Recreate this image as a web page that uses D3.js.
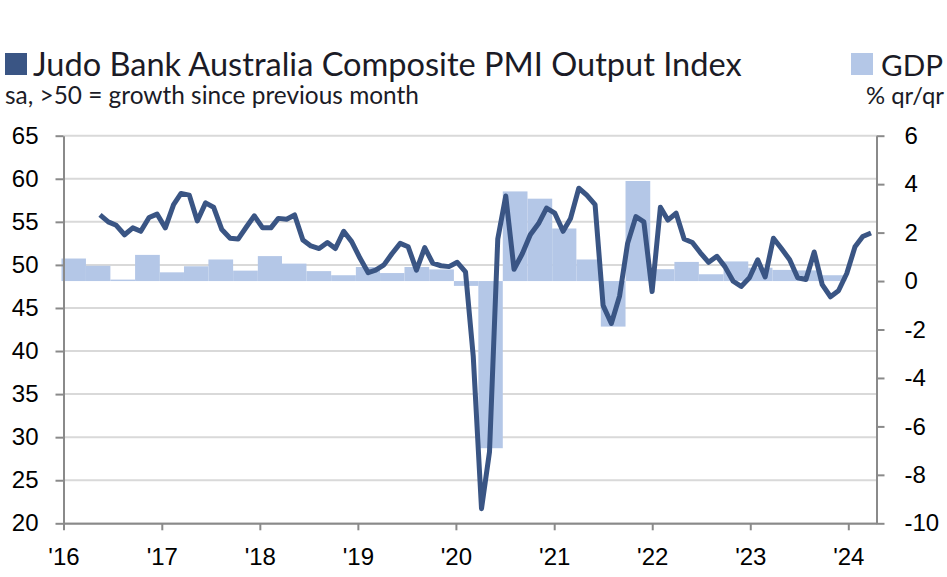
<!DOCTYPE html>
<html>
<head>
<meta charset="utf-8">
<script src="https://cdn.jsdelivr.net/npm/d3@7"></script>
<style>
  body { margin: 0; background: #fff; }
  svg { display: block; }
</style>
</head>
<body>
<div id="chart"></div>
<script>
// PMI composite output index, monthly from May 2016
var pmiStart = "2016-05";
var pmiValues = [
  55.8, 55.0, 54.6, 53.5, 54.3, 53.9, 55.5, 55.9,
  54.3, 57.0, 58.3, 58.1, 55.1, 57.2, 56.7, 54.1, 53.1, 53.0, 54.4, 55.7,
  54.3, 54.3, 55.4, 55.3, 55.8, 52.9, 52.2, 51.9, 52.6, 51.9, 53.9, 52.7,
  50.8, 49.1, 49.4, 50.0, 51.3, 52.5, 52.1, 49.4, 52.0, 50.2, 49.9, 49.8,
  50.3, 49.2, 39.4, 21.7, 28.3, 53.0, 58.0, 49.5, 51.3, 53.5, 54.8, 56.6,
  56.0, 53.9, 55.4, 58.9, 58.1, 57.0, 45.3, 43.2, 46.4, 52.5, 55.6, 55.0,
  46.9, 56.7, 55.2, 56.0, 53.0, 52.6, 51.4, 50.3, 51.0, 49.8, 48.1, 47.5,
  48.5, 50.6, 48.6, 53.1, 51.9, 50.6, 48.5, 48.3, 51.5, 47.7, 46.3, 47.0,
  49.0, 52.1, 53.3, 53.7
];

// GDP % q/q, quarterly from Q1 2016
var gdpStart = "2016-01";
var gdpValues = [
  0.93, 0.63, 0.06, 1.08,
  0.36, 0.61, 0.89, 0.43,
  1.03, 0.72, 0.41, 0.24,
  0.58, 0.33, 0.58, 0.48,
  -0.2, -6.9, 3.7, 3.4,
  2.17, 0.89, -1.88, 4.13,
  0.49, 0.79, 0.28, 0.81,
  0.55, 0.46, 0.44, 0.24
];

var yearLabels = ["'16", "'17", "'18", "'19", "'20", "'21", "'22", "'23", "'24"];
var leftTicks = [20, 25, 30, 35, 40, 45, 50, 55, 60, 65];
var rightTicks = [-10, -8, -6, -4, -2, 0, 2, 4, 6];

var titleText = "Judo Bank Australia Composite PMI Output Index";
var subtitleText = "sa, >50 = growth since previous month";
var gdpLabel = "GDP";
var gdpUnit = "% qr/qr";

var width = 947, height = 577;
var plot = {left: 63.5, right: 876.5, top: 135.7, bottom: 523.3};
var lineColor = "#3a5584", barColor = "#b4c7e7", axisColor = "#8a8a8a", gridColor = "#d9d9d9";
var titleFont = "Lato, 'Open Sans', sans-serif";
var axisFont = "'Liberation Sans', Arial, sans-serif";

var parseMonth = d3.timeParse("%Y-%m");
var pmiData = pmiValues.map(function(v, i) {
  return {date: d3.timeMonth.offset(parseMonth(pmiStart), i), value: v};
});
var gdpData = gdpValues.map(function(v, i) {
  return {date: d3.timeMonth.offset(parseMonth(gdpStart), i * 3), value: v};
});

var svg = d3.select("#chart").append("svg")
  .attr("width", width)
  .attr("height", height);

// scales
var x = d3.scaleTime()
  .domain([new Date(2016, 0, 1), new Date(2024, 3, 15)])
  .range([plot.left, plot.right]);
// the line series sits on its own (secondary) date axis in the original
var xLine = d3.scaleTime()
  .domain(d3.extent(pmiData, function(d) { return d.date; }))
  .range([100, 871]);
var yL = d3.scaleLinear().domain([20, 65]).range([plot.bottom, plot.top]);
var yR = d3.scaleLinear().domain([-10, 6]).range([plot.bottom, plot.top]);

// gridlines
svg.append("g")
  .selectAll("line")
  .data(leftTicks)
  .enter().append("line")
    .attr("x1", plot.left)
    .attr("x2", plot.right)
    .attr("y1", function(d) { return yL(d); })
    .attr("y2", function(d) { return yL(d); })
    .attr("stroke", gridColor)
    .attr("stroke-width", 2);

// gdp columns, excel nudges them a touch left of the quarter start
svg.append("g")
  .selectAll("rect")
  .data(gdpData)
  .enter().append("rect")
    .attr("x", function(d) { return x(d.date) - 2; })
    .attr("width", function(d) { return x(d3.timeMonth.offset(d.date, 3)) - x(d.date); })
    .attr("y", function(d) { return yR(Math.max(0, d.value)); })
    .attr("height", function(d) { return Math.abs(yR(d.value) - yR(0)); })
    .attr("fill", barColor);

// pmi line
var line = d3.line()
  .x(function(d) { return xLine(d.date); })
  .y(function(d) { return yL(d.value); });

svg.append("path")
  .datum(pmiData)
  .attr("d", line)
  .attr("fill", "none")
  .attr("stroke", lineColor)
  .attr("stroke-width", 5)
  .attr("stroke-linejoin", "round")
  .attr("stroke-linecap", "butt");

// axes
function styleAxis(g) {
  g.select(".domain").attr("stroke", axisColor).attr("stroke-width", 2);
  g.selectAll(".tick line").attr("stroke", axisColor).attr("stroke-width", 2);
  g.selectAll(".tick text")
    .attr("fill", "#000")
    .style("font-family", axisFont)
    .style("font-size", "24px");
}

// plain hyphen for negatives, like the source
var plainNum = function(d) { return String(d); };

svg.append("g")
  .attr("transform", "translate(" + plot.left + ",0)")
  .call(d3.axisLeft(yL).tickValues(leftTicks).tickFormat(plainNum)
    .tickSize(8).tickSizeOuter(0).tickPadding(17))
  .call(styleAxis);

svg.append("g")
  .attr("transform", "translate(" + plot.right + ",0)")
  .call(d3.axisRight(yR).tickValues(rightTicks).tickFormat(plainNum)
    .tickSize(8).tickSizeOuter(0).tickPadding(20))
  .call(styleAxis);

var yearTicks = yearLabels.map(function(l, i) { return new Date(2016 + i, 0, 1); });
svg.append("g")
  .attr("transform", "translate(0," + plot.bottom + ")")
  .call(d3.axisBottom(x).tickValues(yearTicks).tickSize(7).tickSizeOuter(0).tickPadding(18)
    .tickFormat(function(d, i) { return yearLabels[i]; }))
  .call(styleAxis);

// titles and legend
function fitText(sel, w) {
  var len = sel.node().getComputedTextLength();
  var fs = parseFloat(sel.style("font-size"));
  sel.style("font-size", (fs * w / len) + "px");
}

svg.append("rect")
  .attr("x", 5).attr("y", 53).attr("width", 22).attr("height", 22)
  .attr("fill", lineColor);

svg.append("text")
  .attr("x", 33).attr("y", 76)
  .attr("fill", "#1b1b26")
  .style("font-family", titleFont)
  .style("font-size", "30px")
  .text(titleText)
  .call(fitText, 709);

svg.append("text")
  .attr("x", 5).attr("y", 104)
  .attr("fill", "#1b1b26")
  .style("font-family", titleFont)
  .style("font-size", "21px")
  .text(subtitleText)
  .call(fitText, 414);

svg.append("rect")
  .attr("x", 851).attr("y", 53).attr("width", 22).attr("height", 22)
  .attr("fill", barColor);

svg.append("text")
  .attr("x", 881).attr("y", 76)
  .attr("fill", "#1b1b26")
  .style("font-family", titleFont)
  .style("font-size", "30px")
  .text(gdpLabel)
  .call(fitText, 62);

svg.append("text")
  .attr("x", 944).attr("y", 104)
  .attr("text-anchor", "end")
  .attr("fill", "#1b1b26")
  .style("font-family", titleFont)
  .style("font-size", "21px")
  .text(gdpUnit)
  .call(fitText, 78);
</script>
</body>
</html>
